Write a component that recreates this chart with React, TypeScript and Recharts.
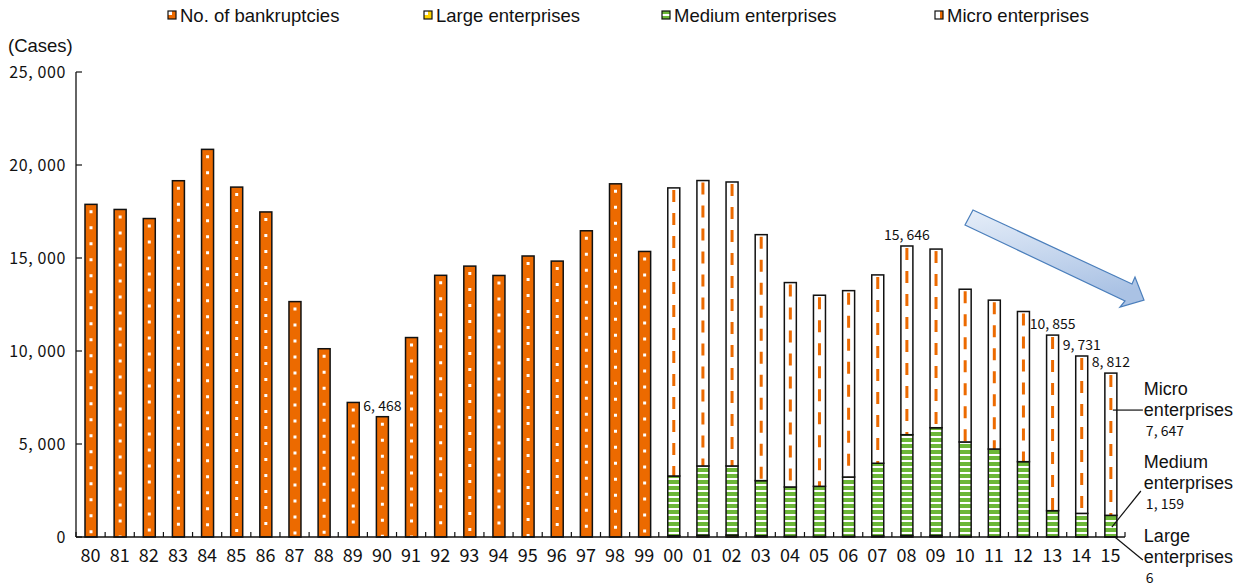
import React from 'react';
import { BarChart, Bar, XAxis, YAxis, Legend, LabelList, Customized } from 'recharts';

// Fiscal years (two-digit labels), 1980 to 2015
const years = [
  '80', '81', '82', '83', '84', '85', '86', '87', '88', '89',
  '90', '91', '92', '93', '94', '95', '96', '97', '98', '99',
  '00', '01', '02', '03', '04', '05', '06', '07', '08', '09',
  '10', '11', '12', '13', '14', '15',
];

// Total bankruptcies, 1980-1999
const bankruptcies = [
  17884, 17610, 17122, 19155, 20841, 18812, 17476, 12655, 10122, 7234,
  6468, 10723, 14069, 14564, 14061, 15108, 14834, 16464, 18988, 15352,
];

// Breakdown by enterprise size, 2000-2015
const largeEnterprises = [71, 93, 100, 62, 39, 33, 36, 55, 82, 83, 37, 21, 26, 18, 10, 6];
const mediumEnterprises = [3209, 3727, 3720, 2968, 2651, 2692, 3189, 3910, 5418, 5792, 5073, 4709, 4024, 1397, 1260, 1159];
const microEnterprises = [15489, 15344, 15267, 13225, 10989, 10273, 10020, 10126, 10146, 9605, 8211, 8004, 8074, 9440, 8461, 7647];

const yTicks = [0, 5000, 10000, 15000, 20000, 25000];
const labelledYears = ['90', '08', '13', '14', '15'];

const seriesNames = {
  bankruptcies: 'No. of bankruptcies',
  large: 'Large enterprises',
  medium: 'Medium enterprises',
  micro: 'Micro enterprises',
};

const splitStart = years.length - largeEnterprises.length;
const rows = years.map((year, i) => {
  if (i < splitStart) {
    return { year, bankruptcies: bankruptcies[i], total: bankruptcies[i] };
  }
  const j = i - splitStart;
  const large = largeEnterprises[j];
  const medium = mediumEnterprises[j];
  const micro = microEnterprises[j];
  return { year, large, medium, micro, total: large + medium + micro };
});
const lastYear = years[years.length - 1];

const W = 1247;
const H = 587;
const MARGIN = { top: 72, right: 122, left: 0, bottom: 20 };
const Y_AXIS_W = 76;
const BAND = (W - MARGIN.right - Y_AXIS_W) / years.length;

const ORANGE = '#ec6a00';
const GREEN = '#6cb738';
const YELLOW = '#ffd200';
const SANS = '"Liberation Sans", Arial, sans-serif';
const NUM = '"Noto Sans CJK JP", "Noto Sans", sans-serif';

const fmt = (v: number) => v.toLocaleString('en-US').replace(/,/g, ', ');

const boxOf = (p: any) => (p.viewBox && p.viewBox.width != null ? p.viewBox : p);

// ---- bar shapes ----
const BankruptcyShape = (p: any) => {
  if (p.payload?.bankruptcies == null) return null;
  const { x, y, width, height } = p;
  const cx = x + width / 2;
  return (
    <g>
      <rect x={x} y={y} width={width} height={height} fill={ORANGE} />
      <line x1={cx} x2={cx} y1={y + 6} y2={y + height} stroke="#fff" strokeWidth={3} strokeDasharray="3 13" />
      <rect x={x} y={y} width={width} height={height} fill="none" stroke="#111" strokeWidth={1.5} />
    </g>
  );
};

const LargeShape = (p: any) => {
  if (p.payload?.large == null) return null;
  const { x, y, width, height } = p;
  return <rect x={x} y={y} width={width} height={Math.max(height, 0)} fill={YELLOW} stroke="#111" strokeWidth={1.5} />;
};

const MediumShape = (p: any) => {
  if (p.payload?.medium == null) return null;
  const { x, y, width, height } = p;
  return (
    <g>
      <defs>
        <pattern id="mediumStripes" patternUnits="userSpaceOnUse" width={8} height={6}>
          <rect width={8} height={6} fill="#fff" />
          <rect width={8} height={4} fill={GREEN} />
        </pattern>
      </defs>
      <rect x={x} y={y} width={width} height={height} fill="url(#mediumStripes)" stroke="#111" strokeWidth={1.5} />
    </g>
  );
};

const MicroShape = (p: any) => {
  if (p.payload?.micro == null) return null;
  const { x, y, width, height } = p;
  const cx = x + width / 2;
  return (
    <g>
      <rect x={x} y={y} width={width} height={height} fill="#fff" />
      <line x1={cx} x2={cx} y1={y + 2} y2={y + height} stroke={ORANGE} strokeWidth={3} strokeDasharray="12 11" />
      <rect x={x} y={y} width={width} height={height} fill="none" stroke="#111" strokeWidth={1.5} />
    </g>
  );
};

// ---- labels ----
const TotalLabel = (p: any) => {
  if (p.value == null) return null;
  const b = boxOf(p);
  return (
    <text x={b.x + b.width / 2} y={b.y - 6} textAnchor="middle" fontSize={14} fontFamily={NUM} fill="#111">
      {fmt(p.value)}
    </text>
  );
};

const noteText = (x: number, y: number, lines: string[], value: number) => (
  <g>
    <text x={x} y={y} fontSize={18} fontFamily={SANS} fill="#111">{lines[0]}</text>
    <text x={x} y={y + 21} fontSize={18} fontFamily={SANS} fill="#111">{lines[1]}</text>
    <text x={x + 2} y={y + 41} fontSize={14} fontFamily={NUM} fill="#111">{fmt(value)}</text>
  </g>
);

const NOTE_GAP = 27;

const MicroNote = (p: any) => {
  if (p.value == null) return null;
  const b = boxOf(p);
  const tx = b.x + b.width + NOTE_GAP;
  const ly = b.y + b.height * 0.26;
  return (
    <g>
      <line x1={b.x + b.width / 2 + 2} x2={tx - 1} y1={ly} y2={ly} stroke="#111" strokeWidth={1.2} />
      {noteText(tx, 395, ['Micro', 'enterprises'], p.value)}
    </g>
  );
};

const MediumNote = (p: any) => {
  if (p.value == null) return null;
  const b = boxOf(p);
  const tx = b.x + b.width + NOTE_GAP;
  return (
    <g>
      <line x1={b.x + b.width / 2 + 1} x2={tx - 3} y1={b.y + b.height * 0.55} y2={491} stroke="#111" strokeWidth={1.2} />
      {noteText(tx, 468, ['Medium', 'enterprises'], p.value)}
    </g>
  );
};

const LargeNote = (p: any) => {
  if (p.value == null) return null;
  const b = boxOf(p);
  const tx = b.x + b.width + NOTE_GAP;
  return (
    <g>
      <line x1={b.x + b.width / 2 + 4} x2={tx - 1} y1={b.y + b.height} y2={560} stroke="#111" strokeWidth={1.2} />
      {noteText(tx, 542, ['Large', 'enterprises'], p.value)}
    </g>
  );
};

// ---- axes ----
const YTick = (p: any) => {
  const { x, y, payload } = p;
  return (
    <g>
      <line x1={x} x2={x + 6} y1={y} y2={y} stroke="#111" strokeWidth={1.2} />
      <text x={x - 10} y={y + 6} textAnchor="end" fontSize={16} letterSpacing={0.6} fontFamily={NUM} fill="#111">
        {fmt(payload.value)}
      </text>
    </g>
  );
};

const XTick = (p: any) => {
  const { x, y, payload, index } = p;
  const left = x - BAND / 2;
  const right = x + BAND / 2;
  return (
    <g>
      <line x1={left} x2={left} y1={y - 5} y2={y} stroke="#111" strokeWidth={1.2} />
      {index === years.length - 1 && <line x1={right} x2={right} y1={y - 5} y2={y} stroke="#111" strokeWidth={1.2} />}
      <text x={x} y={y + 25} textAnchor="middle" fontSize={18} fontFamily={NUM} fill="#111">
        {payload.value}
      </text>
    </g>
  );
};

// ---- legend ----
const legendItems = [
  { key: 'bankruptcies', x: 168 },
  { key: 'large', x: 424 },
  { key: 'medium', x: 662 },
  { key: 'micro', x: 935 },
];

const LegendIcon = ({ kind, x }: { kind: string; x: number }) => {
  const y = 11;
  const s = 8;
  if (kind === 'bankruptcies' || kind === 'large') {
    const fill = kind === 'bankruptcies' ? ORANGE : YELLOW;
    return (
      <g>
        <rect x={x} y={y} width={s} height={s} fill={fill} />
        <rect x={x} y={y} width={4} height={4} fill="#fff" />
        <rect x={x} y={y} width={s} height={s} fill="none" stroke="#111" strokeWidth={1.2} />
      </g>
    );
  }
  if (kind === 'medium') {
    return (
      <g>
        <rect x={x} y={y} width={s} height={s} fill={GREEN} />
        <rect x={x} y={y + 3} width={s} height={2} fill="#fff" />
        <rect x={x} y={y} width={s} height={s} fill="none" stroke="#111" strokeWidth={1.2} />
      </g>
    );
  }
  return (
    <g>
      <rect x={x} y={y} width={s} height={s} fill="#fff" />
      <rect x={x + 5} y={y} width={3} height={s} fill={ORANGE} />
      <rect x={x} y={y} width={s} height={s} fill="none" stroke="#111" strokeWidth={1.2} />
    </g>
  );
};

const LegendContent = () => (
  <svg width={W} height={30} style={{ display: 'block' }}>
    {legendItems.map((it) => (
      <g key={it.key}>
        <LegendIcon kind={it.key} x={it.x} />
        <text x={it.x + 12} y={22} fontSize={18.5} fontFamily={SANS} fill="#111">
          {(seriesNames as any)[it.key]}
        </text>
      </g>
    ))}
  </svg>
);

// ---- decorations: unit caption and downward trend arrow ----
const Decorations = () => (
  <g>
    <text x={8} y={52} fontSize={18.5} fontFamily={SANS} fill="#111">(Cases)</text>
    <defs>
      <linearGradient id="trendFill" x1="0" y1="0" x2="0.25" y2="1">
        <stop offset="0" stopColor="#e6eef9" />
        <stop offset="1" stopColor="#aac2e4" />
      </linearGradient>
    </defs>
    <polygon
      points="973,210 1132,284 1135,277 1144,300 1120,307 1125,301 965,225"
      fill="url(#trendFill)"
      stroke="#4a7ebb"
      strokeWidth={1.2}
      strokeLinejoin="miter"
    />
  </g>
);

export default function App() {
  return (
    <div style={{ position: 'absolute', left: 0, top: 0, width: W, height: H, overflow: 'hidden', background: '#fff' }}>
      <BarChart width={W} height={H} data={rows} margin={MARGIN} barSize={12}>
        <XAxis
          dataKey="year"
          interval={0}
          height={30}
          tickSize={0}
          tickMargin={0}
          tickLine={false}
          axisLine={{ stroke: '#111', strokeWidth: 1.3 }}
          tick={<XTick />}
        />
        <YAxis
          width={Y_AXIS_W}
          domain={[0, 25000]}
          ticks={yTicks}
          interval={0}
          tickSize={0}
          tickMargin={0}
          tickLine={false}
          axisLine={{ stroke: '#111', strokeWidth: 1.3 }}
          tick={<YTick />}
        />
        <Legend
          layout="horizontal"
          verticalAlign="middle"
          align="center"
          content={<LegendContent />}
          wrapperStyle={{ top: 0, left: 0, width: W, height: 30 }}
        />
        <Bar dataKey="bankruptcies" name={seriesNames.bankruptcies} stackId="a" shape={<BankruptcyShape />} isAnimationActive={false}>
          <LabelList
            dataKey={(d: any) => (d.bankruptcies != null && labelledYears.includes(d.year) ? d.total : null)}
            content={<TotalLabel />}
          />
        </Bar>
        <Bar dataKey="large" name={seriesNames.large} stackId="a" shape={<LargeShape />} isAnimationActive={false}>
          <LabelList dataKey={(d: any) => (d.year === lastYear ? d.large : null)} content={<LargeNote />} />
        </Bar>
        <Bar dataKey="medium" name={seriesNames.medium} stackId="a" shape={<MediumShape />} isAnimationActive={false}>
          <LabelList dataKey={(d: any) => (d.year === lastYear ? d.medium : null)} content={<MediumNote />} />
        </Bar>
        <Bar dataKey="micro" name={seriesNames.micro} stackId="a" shape={<MicroShape />} isAnimationActive={false}>
          <LabelList
            dataKey={(d: any) => (d.micro != null && labelledYears.includes(d.year) ? d.total : null)}
            content={<TotalLabel />}
          />
          <LabelList dataKey={(d: any) => (d.year === lastYear ? d.micro : null)} content={<MicroNote />} />
        </Bar>
        <Customized component={<Decorations />} />
      </BarChart>
    </div>
  );
}
